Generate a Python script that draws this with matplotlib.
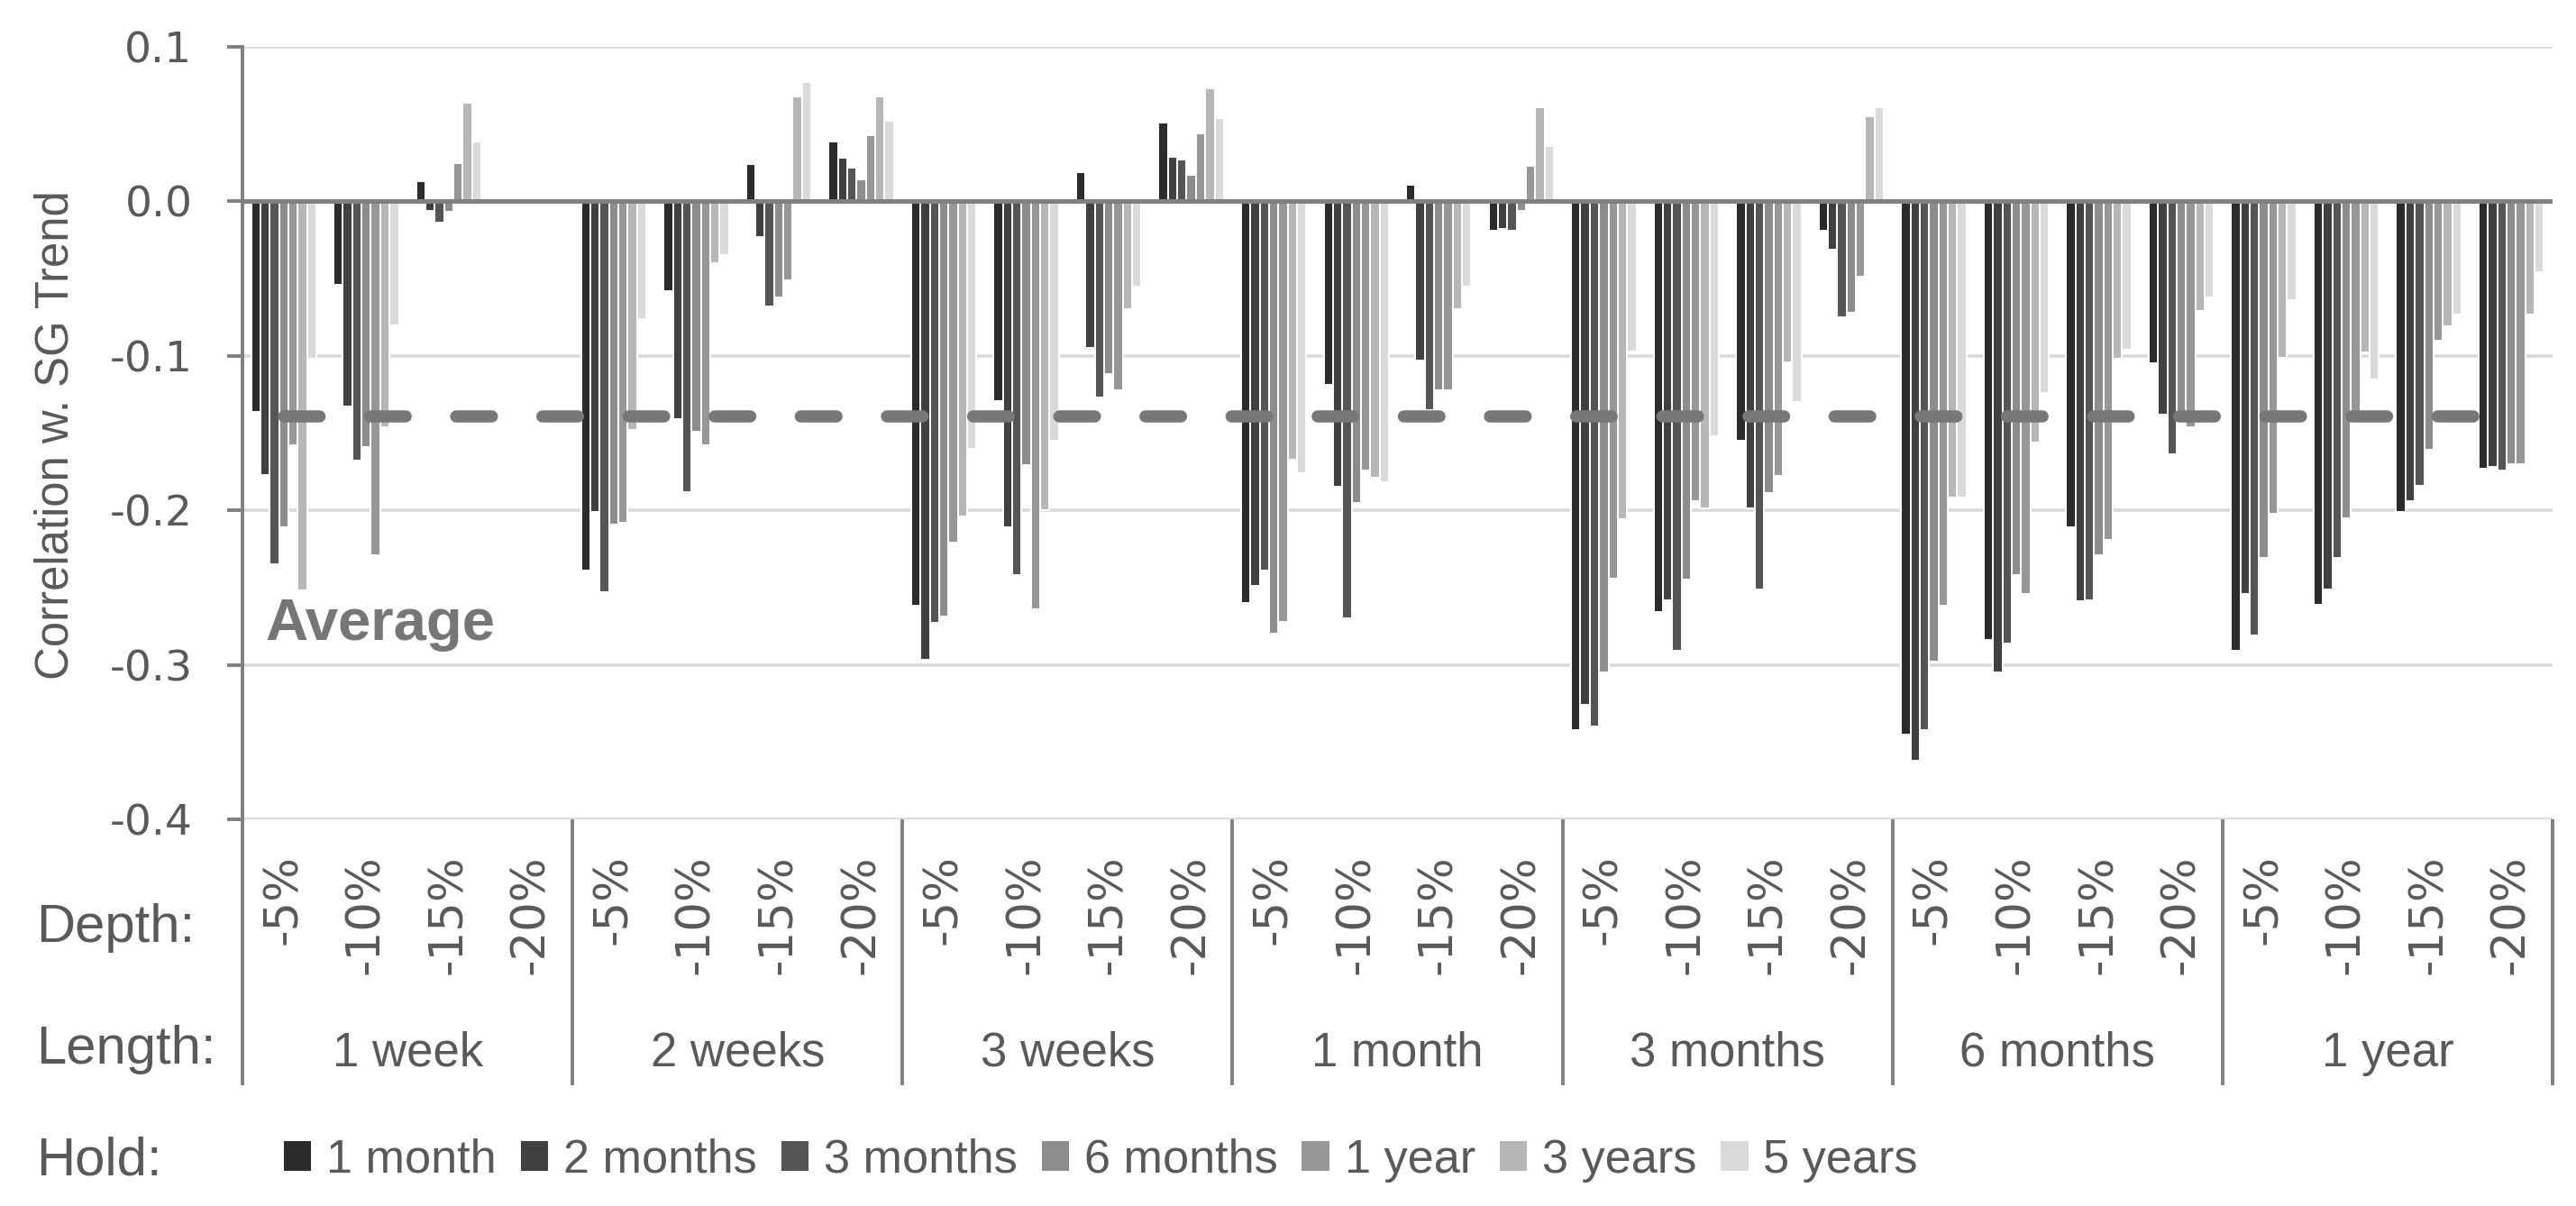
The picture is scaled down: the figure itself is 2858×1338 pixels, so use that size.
import numpy as np
import matplotlib
matplotlib.use("Agg")
import matplotlib.pyplot as plt
import matplotlib.transforms as mtransforms

plt.rcParams['font.family'] = ['Liberation Sans', 'DejaVu Sans']

# data: correlation with SG Trend, 7 lengths x 4 depths per hold period
lengths = ['1 week', '2 weeks', '3 weeks', '1 month', '3 months', '6 months', '1 year']
depths = ['-5%', '-10%', '-15%', '-20%']
holds = ['1 month', '2 months', '3 months', '6 months', '1 year', '3 years', '5 years']
nan = np.nan

hold_1m = [-0.136, -0.054, 0.013, nan,   -0.239, -0.058, 0.024, 0.039,
           -0.262, -0.129, 0.019, 0.051,  -0.260, -0.119, 0.011, -0.019,
           -0.342, -0.266, -0.155, -0.019, -0.345, -0.284, -0.211, -0.105,
           -0.291, -0.261, -0.201, -0.173]
hold_2m = [-0.177, -0.133, -0.006, nan,  -0.201, -0.141, -0.023, 0.028,
           -0.297, -0.211, -0.095, 0.029, -0.249, -0.185, -0.103, -0.018,
           -0.326, -0.258, -0.199, -0.031, -0.362, -0.305, -0.259, -0.138,
           -0.254, -0.251, -0.194, -0.172]
hold_3m = [-0.235, -0.168, -0.014, nan,  -0.253, -0.188, -0.068, 0.022,
           -0.273, -0.242, -0.127, 0.027, -0.239, -0.270, -0.135, -0.019,
           -0.340, -0.291, -0.251, -0.075, -0.342, -0.286, -0.258, -0.164,
           -0.281, -0.231, -0.184, -0.174]
hold_6m = [-0.211, -0.159, -0.007, nan,  -0.209, -0.149, -0.062, 0.014,
           -0.269, -0.171, -0.112, 0.017, -0.280, -0.195, -0.122, -0.006,
           -0.305, -0.245, -0.189, -0.072, -0.298, -0.242, -0.229, -0.141,
           -0.231, -0.205, -0.161, -0.170]
hold_1y = [-0.158, -0.229, 0.025, nan,   -0.208, -0.158, -0.051, 0.043,
           -0.221, -0.264, -0.122, 0.044, -0.272, -0.174, -0.122, 0.023,
           -0.244, -0.194, -0.178, -0.049, -0.262, -0.254, -0.219, -0.146,
           -0.202, -0.140, -0.090, -0.170]
hold_3y = [-0.252, -0.146, 0.064, nan,   -0.148, -0.040, 0.068, 0.068,
           -0.204, -0.200, -0.070, 0.073, -0.167, -0.179, -0.070, 0.061,
           -0.206, -0.199, -0.104, 0.055, -0.192, -0.156, -0.102, -0.071,
           -0.101, -0.098, -0.081, -0.073]
hold_5y = [-0.102, -0.080, 0.039, nan,   -0.076, -0.035, 0.077, 0.052,
           -0.160, -0.155, -0.055, 0.054, -0.176, -0.182, -0.055, 0.036,
           -0.097, -0.152, -0.130, 0.061, -0.192, -0.124, -0.096, -0.062,
           -0.064, -0.115, -0.073, -0.046]
average = -0.139

yticks = [-0.4, -0.3, -0.2, -0.1, 0.0, 0.1]
ytick_labels = ['-0.4', '-0.3', '-0.2', '-0.1', '0.0', '0.1']

series = [hold_1m, hold_2m, hold_3m, hold_6m, hold_1y, hold_3y, hold_5y]
colors = ['#2b2b2b', '#404040', '#555555', '#8d8d8d', '#979797', '#b7b7b7', '#dadada']
txt = '#595959'

fig = plt.figure(figsize=(2858 / 200, 1338 / 200), dpi=200)
ax = fig.add_axes([269 / 2858, 1 - 909 / 1338, (2832 - 269) / 2858, (909 - 52) / 1338])

n_cat = len(lengths) * len(depths)
x = np.arange(n_cat)
slot = 0.113
bars = []
for k, (vals, c) in enumerate(zip(series, colors)):
    b = ax.bar(x + (k - 3) * slot, vals, width=slot, color=c, edgecolor='white',
               linewidth=0.7, label=holds[k], zorder=2)
    bars.append(b)

ax.axhline(0, color='#808080', lw=1.8, zorder=3)
# average line, dashed with round caps, on top of the bars
ax.plot([x[0], x[-1]], [average, average], color='#777777', lw=4.86,
        linestyle=(0, (2.93, 4.15)), dash_capstyle='round', zorder=4)
ax.text(-0.22, -0.284, 'Average', fontsize=23.5, fontweight='bold', color='#767676',
        family='Liberation Sans', va='baseline', ha='left', zorder=5)

ax.set_xlim(-0.5, n_cat - 0.5)
ax.set_ylim(-0.4, 0.1)
ax.set_yticks(yticks)
ax.set_yticklabels(ytick_labels, family='DejaVu Sans', fontsize=17, color=txt)
ax.yaxis.grid(True, color='#d9d9d9', lw=1.3)
ax.set_axisbelow(True)
for s in ['top', 'right', 'bottom']:
    ax.spines[s].set_visible(False)
ax.spines['left'].set_color('#7f7f7f')
ax.spines['left'].set_linewidth(1.4)
ax.tick_params(axis='y', length=6, width=1.4, color='#7f7f7f', pad=14)

ax.set_xticks(x)
ax.set_xticklabels(depths * len(lengths), rotation=90, family='DejaVu Sans',
                   fontsize=18.5, color=txt, va='top', ha='center')
ax.tick_params(axis='x', length=0, pad=14)

# group separators and length labels below the axis
trans = mtransforms.blended_transform_factory(ax.transData, ax.transAxes)
for i in range(len(lengths) + 1):
    xs = i * len(depths) - 0.5
    ax.plot([xs, xs], [0, -0.344], transform=trans, color='#808080', lw=1.4,
            clip_on=False, solid_capstyle='butt')
for i, name in enumerate(lengths):
    ax.text(i * len(depths) + 1.5, -0.3197, name, transform=trans, ha='center',
            va='baseline', fontsize=19, color=txt)

fig.text(62 / 2858, 1 - 483 / 1338, 'Correlation w. SG Trend', rotation=90,
         ha='center', va='center', fontsize=18.3, color=txt)
fig.text(40 / 2858, 1 - 1045 / 1338, 'Depth:', ha='left', va='baseline', fontsize=21.5, color=txt)
fig.text(40 / 2858, 1 - 1180 / 1338, 'Length:', ha='left', va='baseline', fontsize=21.5, color=txt)
fig.text(40 / 2858, 1 - 1303 / 1338, 'Hold:', ha='left', va='baseline', fontsize=21.5, color=txt)

leg = fig.legend(handles=bars, labels=holds, loc='center left',
                 bbox_to_anchor=(314 / 2858, 1 - 1287 / 1338), ncol=7, frameon=False,
                 fontsize=18.8, handlelength=0.62, handleheight=0.65, handletextpad=0.3,
                 columnspacing=0.5, borderpad=0, borderaxespad=0)
for t in leg.get_texts():
    t.set_color(txt)

fig.savefig('out.png', dpi=200, facecolor='white')
